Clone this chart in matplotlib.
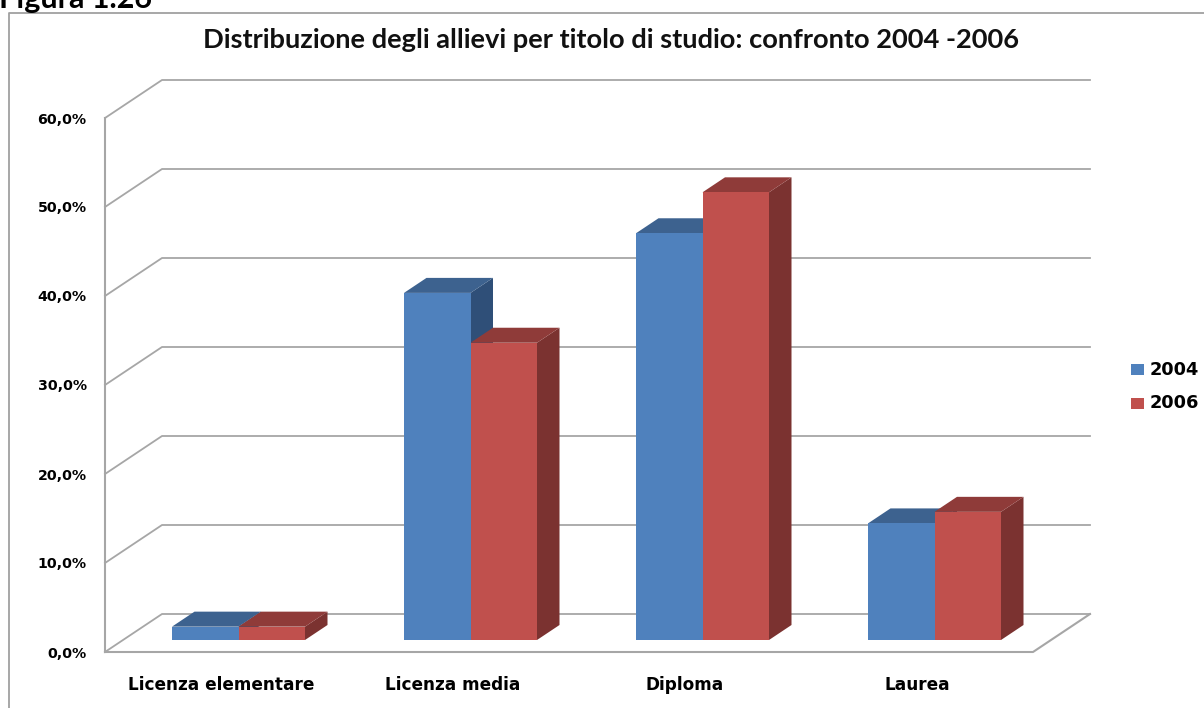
import matplotlib
matplotlib.use('Agg')
import matplotlib.pyplot as plt
from matplotlib.patches import Polygon, Rectangle

categories = ['Licenza elementare', 'Licenza media', 'Diploma', 'Laurea']
val_2004 = [1.5, 39.0, 45.7, 13.1]
val_2006 = [1.5, 33.4, 50.3, 14.4]
yticks = [0, 10, 20, 30, 40, 50, 60]
ylabels = ['0,0%', '10,0%', '20,0%', '30,0%', '40,0%', '50,0%', '60,0%']
title = 'Distribuzione degli allievi per titolo di studio: confronto 2004 -2006'

W, H = 1204, 708
fig = plt.figure(figsize=(W/100, H/100), dpi=100)

# front plane of the fake 3d box, in pixels
left, right, bottom, top = 105, 1033, 652, 118
ax = fig.add_axes([left/W, 1-bottom/H, (right-left)/W, (bottom-top)/H])
ax.set_xlim(0, 4)
ax.set_ylim(0, 60)
for s in ax.spines.values():
    s.set_visible(False)
ax.patch.set_alpha(0)

# pixel -> data helpers for the oblique offsets
px = 4/(right-left)
py = 60/(bottom-top)
wall_dx, wall_dy = 57*px, 38*py
shift_dx, shift_dy = 17.5*px, 12*py
bar_dx, bar_dy = 22.5*px, 15*py
bar_w = 66.5*px

grid = '#a6a6a6'
for t in yticks:
    ax.plot([0, wall_dx, 4+wall_dx], [t, t+wall_dy, t+wall_dy], color=grid, lw=1.3, clip_on=False, zorder=1)
ax.plot([0, 0], [0, 60], color=grid, lw=1.5, clip_on=False, zorder=1)
ax.plot([0, 4, 4+wall_dx], [0, 0, wall_dy], color=grid, lw=1.5, clip_on=False, zorder=1)


def bar3d(x0, v, front, side, topc):
    x0 = x0+shift_dx
    x1 = x0+bar_w
    y0 = shift_dy
    y1 = v+shift_dy
    ax.add_patch(Polygon([(x1, y0), (x1+bar_dx, y0+bar_dy), (x1+bar_dx, y1+bar_dy), (x1, y1)],
                         fc=side, ec='none', clip_on=False, zorder=3))
    ax.add_patch(Polygon([(x0, y1), (x0+bar_dx, y1+bar_dy), (x1+bar_dx, y1+bar_dy), (x1, y1)],
                         fc=topc, ec='none', clip_on=False, zorder=3))
    ax.add_patch(Polygon([(x0, y0), (x1, y0), (x1, y1), (x0, y1)],
                         fc=front, ec='none', clip_on=False, zorder=4))


for i in range(len(categories)):
    c = i+0.5
    bar3d(c-bar_w, val_2004[i], '#4f81bd', '#2f4f78', '#3d628f')
    bar3d(c, val_2006[i], '#c0504d', '#7b3230', '#8f3b39')

ax.set_xticks([i+0.5 for i in range(4)])
ax.set_xticklabels(categories, fontsize=12.2, fontweight='bold', fontfamily='DejaVu Sans')
ax.set_yticks(yticks)
ax.set_yticklabels(ylabels, fontsize=10.2, fontweight='bold', fontfamily='DejaVu Sans')
ax.tick_params(length=0)
ax.tick_params(axis='x', pad=17.5)
ax.tick_params(axis='y', pad=13.2)

fig.text(611/W, 1-40/H, title, ha='center', va='center', fontsize=19.6, fontweight='bold',
         family='Lato', color='#111111')
fig.text(-1/W, 1-8/H, 'Figura 1.26', ha='left', va='baseline', fontsize=22, fontweight='bold',
         family='Lato', color='black')

# legend, hand placed like the original
for lab, col, yy in [('2004', '#4f81bd', 370), ('2006', '#c0504d', 403)]:
    fig.add_artist(Rectangle((1131/W, 1-(yy+5.5)/H), 13/W, 11/H, transform=fig.transFigure, fc=col, ec='none'))
    fig.text(1150/W, 1-yy/H, lab, ha='left', va='center', fontsize=12.8, fontweight='bold', family='DejaVu Sans')

# outer chart border
fig.add_artist(plt.Line2D([9/W, 9/W, 1], [0, 1-13/H, 1-13/H], color='#a0a0a0', lw=1.3))

fig.savefig('out.png', dpi=100)
